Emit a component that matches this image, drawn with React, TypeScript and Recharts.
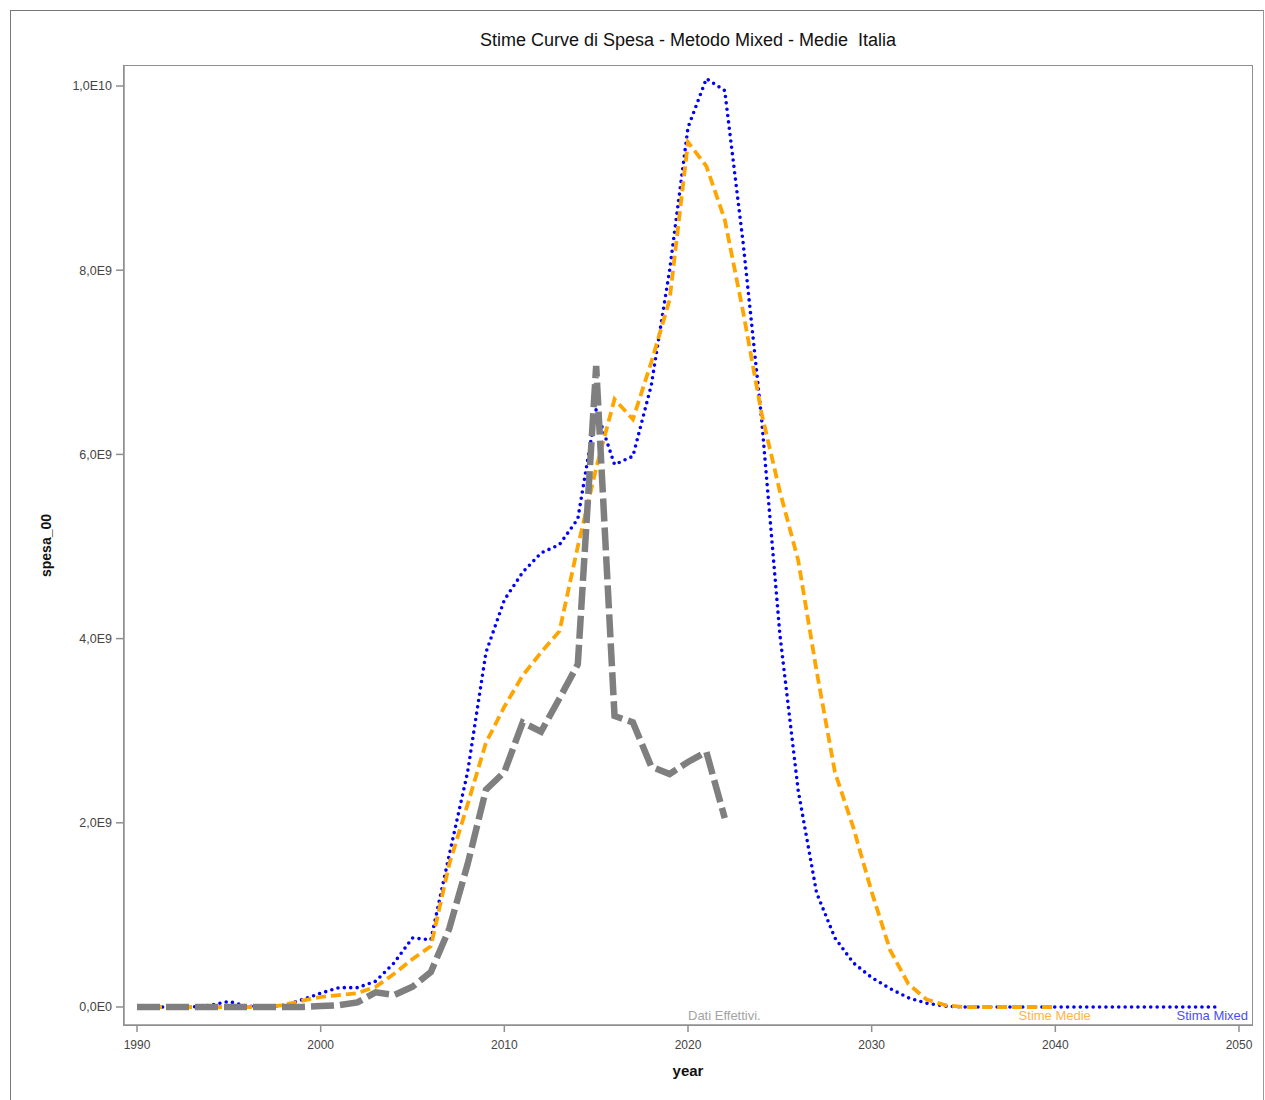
import React from 'react';
import { LineChart, Line, XAxis, YAxis, ReferenceDot } from 'recharts';

// Values in units of 1E9
const firstYear = 1990;
const datiEffettivi = [
  0, 0, 0, 0, 0, 0, 0, 0, 0, 0,
  0.01, 0.02, 0.05, 0.16, 0.13, 0.22, 0.38, 0.85, 1.55, 2.36,
  2.55, 3.09, 2.99, 3.35, 3.72, 6.96, 3.16, 3.09, 2.61, 2.53,
  2.66, 2.77, 2.05,
];
const stimeMedie = [
  0, 0, 0, 0, 0, 0, 0, 0, 0.02, 0.07,
  0.11, 0.13, 0.15, 0.22, 0.36, 0.52, 0.66, 1.55, 2.2, 2.87,
  3.26, 3.6, 3.85, 4.08, 5.0, 5.85, 6.6, 6.38, 7.0, 7.68,
  9.39, 9.13, 8.55, 7.55, 6.45, 5.6, 4.85, 3.65, 2.55, 1.95,
  1.25, 0.62, 0.25, 0.08, 0.02, 0, 0, 0, 0, 0,
  0,
];
const stimaMixed = [
  0, 0, 0, 0, 0.02, 0.06, 0.01, 0, 0.02, 0.08,
  0.15, 0.21, 0.21, 0.28, 0.48, 0.75, 0.73, 1.65, 2.55, 3.85,
  4.42, 4.72, 4.93, 5.02, 5.3, 6.49, 5.89, 5.98, 6.75, 8.0,
  9.55, 10.08, 9.95, 8.3, 6.4, 4.05, 2.35, 1.24, 0.75, 0.48,
  0.32, 0.2, 0.1, 0.04, 0.01, 0, 0, 0, 0, 0,
  0, 0, 0, 0, 0, 0, 0, 0, 0, 0,
];
const xTicks = [1990, 2000, 2010, 2020, 2030, 2040, 2050];
const yTicks = [0, 2, 4, 6, 8, 10];
const yTickLabels = ['0,0E0', '2,0E9', '4,0E9', '6,0E9', '8,0E9', '1,0E10'];

const title = 'Stime Curve di Spesa - Metodo Mixed - Medie  Italia';
const seriesLabels = [
  { text: 'Dati Effettivi.', year: 2020, color: '#a3a3a3' },
  { text: 'Stime Medie', year: 2038, color: '#ffb63a' },
  { text: 'Stima Mixed', year: 2046.6, color: '#4b4bff' },
];

const n = Math.max(datiEffettivi.length, stimeMedie.length, stimaMixed.length);
const data = Array.from({ length: n }, (_, i) => ({
  year: firstYear + i,
  dati: datiEffettivi[i],
  medie: stimeMedie[i],
  mixed: stimaMixed[i],
}));

const FONT = '"Liberation Sans", Arial, sans-serif';
const AXIS = '#8f8f8f';

const YLabel = (props: any) => {
  const vb = props.viewBox || {};
  const x = vb.x + 32;
  const y = vb.y + vb.height / 2;
  return (
    <text x={x} y={y} transform={`rotate(-90, ${x}, ${y})`} textAnchor="middle" dominantBaseline="central"
      fontFamily={FONT} fontSize={14} fontWeight="bold" fill="#111">spesa_00</text>
  );
};

export default function App() {
  return (
    <div style={{ position: 'absolute', left: 0, top: 0, width: 1265, height: 1100, background: '#fff', fontFamily: FONT }}>
      <div style={{ position: 'absolute', left: 10, top: 10, width: 1252, height: 1095, borderLeft: '1.5px solid #777', borderTop: '1.5px solid #777', borderRight: '1.5px solid #999' }} />
      <div style={{ position: 'absolute', left: 0, top: 30, width: 1376, textAlign: 'center', fontSize: 18, color: '#111', fontFamily: FONT, whiteSpace: 'pre' }}>
        {title}
      </div>
      <div style={{ position: 'absolute', left: 0, top: 0 }}>
        <LineChart width={1265} height={1100} data={data} margin={{ top: 66, right: 13, bottom: 15, left: 14 }}>
          <XAxis dataKey="year" type="number" domain={[1990, 2050]} ticks={xTicks} allowDataOverflow
            padding={{ left: 13, right: 13 }} height={60} tickSize={7} tickMargin={8}
            stroke={AXIS} strokeWidth={1.5}
            tick={{ fill: '#444', fontSize: 12, fontFamily: FONT }}
            label={{ value: 'year', position: 'insideBottom', offset: 9, fill: '#111', fontSize: 15, fontWeight: 'bold', fontFamily: FONT }} />
          <YAxis type="number" domain={[-0.1954, 10.2172]} ticks={yTicks} allowDataOverflow width={110}
            tickSize={8} tickMargin={4}
            stroke={AXIS} strokeWidth={1.5}
            tickFormatter={(v: number) => yTickLabels[yTicks.indexOf(v)] ?? ''}
            tick={{ fill: '#444', fontSize: 12.5, fontFamily: FONT }}
            label={<YLabel />} />
          <Line type="linear" dataKey="mixed" stroke="#0000ff" strokeWidth={3.6} strokeDasharray="0 6.4"
            strokeLinecap="round" dot={false} activeDot={false} isAnimationActive={false} />
          <Line type="linear" dataKey="medie" stroke="#ffa500" strokeWidth={3.8} strokeDasharray="10 5"
            dot={false} activeDot={false} isAnimationActive={false} />
          <Line type="linear" dataKey="dati" stroke="#7f7f7f" strokeWidth={6.5} strokeDasharray="23 6"
            dot={false} activeDot={false} isAnimationActive={false} />
          {seriesLabels.map((s) => (
            <ReferenceDot key={s.text} x={s.year} y={0} r={0} fill="none" stroke="none" ifOverflow="visible"
              label={(p: any) => (
                <text x={p.viewBox?.x ?? 0} y={(p.viewBox?.y ?? 0) + 13} fill={s.color} fontSize={13}
                  fontFamily={FONT}>{s.text}</text>
              )} />
          ))}
        </LineChart>
      </div>
      <div style={{ position: 'absolute', left: 123, top: 65, width: 1130, height: 961, boxSizing: 'border-box', border: `1.5px solid ${AXIS}`, pointerEvents: 'none' }} />
    </div>
  );
}
